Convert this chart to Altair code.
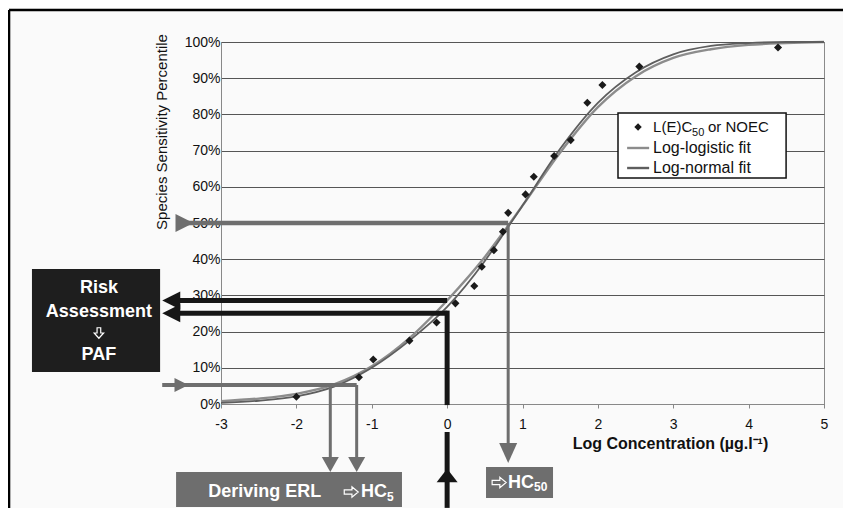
import altair as alt
import pandas as pd

# ---------------- data ----------------
CURVE_X = [-3.0, -2.5, -2.0, -1.5, -1.0, -0.5, 0.0, 0.5, 0.8, 1.0, 1.5, 2.0, 2.5, 3.0, 3.5, 4.0, 4.5, 5.0]
LOGLOGISTIC_Y = [0.8, 1.5, 2.8, 5.4, 10.4, 18.2, 28.6, 40.6, 49.0, 54.8, 69.5, 82.0, 90.5, 95.6, 98.0, 99.2, 99.7, 100.0]
LOGNORMAL_Y = [0.3, 0.9, 2.1, 4.8, 10.0, 17.5, 26.8, 39.5, 48.6, 54.8, 70.5, 83.2, 91.6, 96.6, 98.9, 99.7, 100.0, 100.0]

POINT_X = [-2.00, -1.17, -0.98, -0.50, -0.14, 0.11, 0.36, 0.46, 0.62, 0.74, 0.81,
           1.04, 1.15, 1.42, 1.64, 1.86, 2.06, 2.55, 4.39]
POINT_Y = [2.0, 7.4, 12.3, 17.5, 22.5, 27.8, 32.6, 37.9, 42.5, 47.6, 52.8,
           57.9, 62.8, 68.5, 72.9, 83.2, 88.1, 93.2, 98.5]

X_TICKS = [-3, -2, -1, 0, 1, 2, 3, 4, 5]
Y_TICKS = [0, 10, 20, 30, 40, 50, 60, 70, 80, 90, 100]

HC50_X = 0.81
HC5_X = [-1.55, -1.20]
LEVEL_5 = 5.25
LEVEL_50 = 50.0
EXPOSURE_X = 0.0
PAF_LEVELS = [28.6, 25.1]

FONT = "Liberation Sans"
GRAY = "#6e6e6e"
DARK = "#161616"

xs = alt.Scale(domain=[-3, 5], nice=False, zero=False)
ys = alt.Scale(domain=[0, 100], nice=False, zero=False)

AX = alt.Axis(
    values=X_TICKS, labelExpr="'' + datum.value",
    title="Log Concentration (µg.l⁻¹)", titleFontWeight="bold", titleFontSize=16,
    titleX=449, titleY=39, titleAlign="center", titleBaseline="middle", titleColor="#111",
    labelFontSize=14, labelColor="#111", labelPadding=9, tickSize=4, tickColor="#888",
    domainColor="#888", grid=False, labelFlush=False)
AY = alt.Axis(
    values=Y_TICKS, labelExpr="datum.value + '%'", title="Species Sensitivity Percentile",
    titleFontSize=15, titleFontWeight="normal", titleX=-60, titleY=89.5, titleAngle=270,
    titleAlign="center", titleBaseline="middle", titleColor="#111",
    labelFontSize=14, labelColor="#111", ticks=False, labelPadding=1,
    grid=True, gridColor="#555555", gridWidth=1, domainColor="#888")


def X(f="x"):
    return alt.X(f"{f}:Q", scale=xs, axis=AX)


def Y(f="y"):
    return alt.Y(f"{f}:Q", scale=ys, axis=AY)


def rect(x, x2, y, y2, fill, stroke=None, sw=0):
    kw = dict(fill=fill, clip=False)
    if stroke:
        kw.update(stroke=stroke, strokeWidth=sw)
    return alt.Chart(pd.DataFrame({"x": [x], "x2": [x2], "y": [y], "y2": [y2]})).mark_rect(**kw).encode(
        x=X(), x2="x2:Q", y=Y(), y2="y2:Q")


def rule(x, x2, y, y2, color, width):
    return alt.Chart(pd.DataFrame({"x": [x], "x2": [x2], "y": [y], "y2": [y2]})).mark_rule(
        color=color, strokeWidth=width, clip=False, strokeCap="butt").encode(
        x=X(), x2="x2:Q", y=Y(), y2="y2:Q")


def head(x, y, path, size, color):
    return alt.Chart(pd.DataFrame({"x": [x], "y": [y]})).mark_point(
        shape=path, size=size, filled=True, fill=color, color=color, opacity=1,
        strokeWidth=0, clip=False).encode(x=X(), y=Y())


def outline(x, y, path, size):
    return alt.Chart(pd.DataFrame({"x": [x], "y": [y]})).mark_point(
        shape=path, size=size, filled=False, stroke="white", strokeWidth=1.2, opacity=1,
        clip=False).encode(x=X(), y=Y())


def label(x, y, s, size, color="#111", weight="normal", align="left", font=FONT):
    return alt.Chart(pd.DataFrame({"x": [x], "y": [y], "t": [s]})).mark_text(
        text=s, fontSize=size, fontWeight=weight, color=color, align=align,
        baseline="middle", font=font, clip=False).encode(x=X(), y=Y())


LEFT = "M-1,0L1,-1L1,1Z"
RIGHT = "M1,0L-1,-1L-1,1Z"
DOWN = "M0,1L-0.9,-1L0.9,-1Z"
UP = "M0,-0.65L1,0.65L-1,0.65Z"
HOLLOW_DOWN = "M-0.35,-1L0.35,-1L0.35,0L0.9,0L0,1L-0.9,0L-0.35,0Z"
HOLLOW_RIGHT = "M-1,-0.3L0.1,-0.3L0.1,-0.75L1,0L0.1,0.75L0.1,0.3L-1,0.3Z"

# ---------------- main plot ----------------
curves = pd.DataFrame({"x": CURVE_X, "y": LOGLOGISTIC_Y, "ln": LOGNORMAL_Y})
pts = pd.DataFrame({"x": POINT_X, "y": POINT_Y})

ll_layer = alt.Chart(curves).mark_line(color="#8c8c8c", strokeWidth=2.4, interpolate="monotone").encode(
    x=X(), y=Y())
ln_layer = alt.Chart(curves).mark_line(color="#5e5e5e", strokeWidth=1.8, interpolate="monotone").encode(
    x=X(), y=Y("ln"))
pt_layer = alt.Chart(pts).mark_point(shape="diamond", filled=True, size=65, color="#1a1a1a", opacity=1).encode(
    x=X(), y=Y())

layers = [ll_layer, ln_layer]

# ---------------- annotations ----------------
# outer frame of the figure
layers.append(rule(-5.812, 5.6, 108.84, 108.84, "#000", 2.5))
layers.append(rule(-5.812, -5.812, 108.84, -30.1, "#000", 2.5))

# 50 % -> HC50
layers.append(rule(-3.55, HC50_X, LEVEL_50, LEVEL_50, GRAY, 4.5))
layers.append(head(-3.484, LEVEL_50, RIGHT, 324, GRAY))
layers.append(rule(HC50_X, HC50_X, LEVEL_50, -12.7, GRAY, 3))
layers.append(head(HC50_X, -13.54, DOWN, 400, GRAY))
layers.append(rect(0.516, 1.405, -17.40, -25.97, GRAY))
layers.append(outline(0.690, -21.7, HOLLOW_RIGHT, 196))
layers.append(label(0.807, -21.7, "HC", 18, "white", "bold"))
layers.append(label(1.153, -22.9, "50", 12, "white", "bold"))

# 5 % -> HC5
layers.append(rule(-3.78, HC5_X[1], LEVEL_5, LEVEL_5, GRAY, 4))
layers.append(head(-3.524, LEVEL_5, RIGHT, 196, GRAY))
for hx in HC5_X:
    layers.append(rule(hx, hx, LEVEL_5, -15.5, GRAY, 3))
    layers.append(head(hx, -16.71, "M0,0.88L-1,-0.88L1,-0.88Z", 289, GRAY))
layers.append(rect(-3.596, -0.599, -18.78, -28.45, GRAY))
layers.append(label(-2.42, -24.3, "Deriving ERL", 18, "white", "bold", "center"))
layers.append(outline(-1.272, -24.3, HOLLOW_RIGHT, 196))
layers.append(label(-1.142, -24.3, "HC", 18, "white", "bold"))
layers.append(label(-0.797, -25.7, "5", 12, "white", "bold"))

# exposure -> PAF
for lv in PAF_LEVELS:
    layers.append(rule(-3.66, EXPOSURE_X, lv, lv, DARK, 5))
    layers.append(head(-3.66, lv, LEFT, 324, DARK))
layers.append(rule(EXPOSURE_X, EXPOSURE_X, PAF_LEVELS[1] + 0.7, -0.3, DARK, 5))
layers.append(rule(EXPOSURE_X, EXPOSURE_X, -7.73, -28.7, DARK, 5))
layers.append(head(EXPOSURE_X, -19.75, UP, 441, DARK))
layers.append(rect(-5.508, -3.808, 37.29, 8.84, "#1e1e1e"))
layers.append(label(-4.62, 32.04, "Risk", 18, "white", "bold", "center"))
layers.append(label(-4.62, 25.41, "Assessment", 18, "white", "bold", "center"))
layers.append(outline(-4.62, 19.61, HOLLOW_DOWN, 110))
layers.append(label(-4.62, 13.54, "PAF", 18, "white", "bold", "center"))

# legend
layers.append(rect(2.267, 4.497, 80.39, 62.43, "white", "#111", 1.5))
layers.append(alt.Chart(pd.DataFrame({"x": [2.533], "y": [76.52]})).mark_point(
    shape="diamond", filled=True, size=55, color="#1a1a1a", opacity=1, clip=False).encode(x=X(), y=Y()))
layers.append(label(2.732, 76.52, "L(E)C", 15))
layers.append(label(3.25, 75.0, "50", 11))
layers.append(label(3.46, 76.52, "or NOEC", 15))
layers.append(rule(2.388, 2.68, 70.72, 70.72, "#8c8c8c", 2.4))
layers.append(label(2.732, 70.72, "Log-logistic fit", 16))
layers.append(rule(2.388, 2.68, 65.19, 65.19, "#5e5e5e", 2.4))
layers.append(label(2.732, 65.19, "Log-normal fit", 16))

layers.append(pt_layer)

chart = alt.layer(*layers).properties(
    width=603, height=362,
    padding={"left": 213, "top": 34, "right": 19, "bottom": 104},
    autosize=alt.AutoSizeParams(type="none"),
    background="#fafafa",
).configure(font=FONT).configure_view(stroke="#8a8a8a", strokeWidth=1)

chart.save("out.html", embed_options={"renderer": "svg", "actions": False})
